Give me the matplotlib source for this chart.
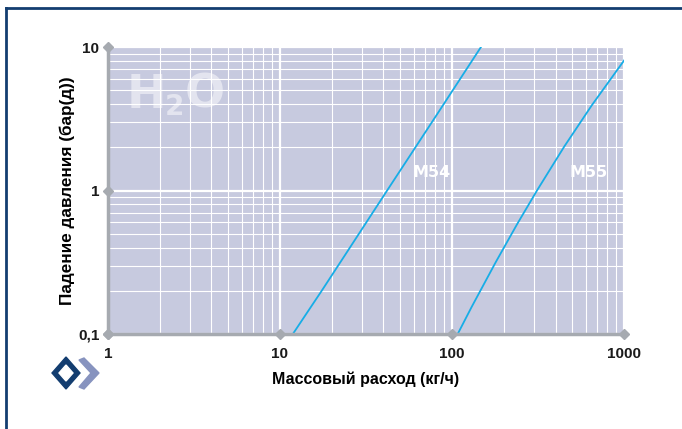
import numpy as np
import matplotlib
matplotlib.use("Agg")
import matplotlib.pyplot as plt
from matplotlib.patches import Polygon
from matplotlib.lines import Line2D

plt.rcParams['font.family'] = ['Liberation Sans', 'DejaVu Sans']

# data
m54_flow = [11.9, 14, 17.5, 25, 42, 80, 147.5]
m54_dp = [0.1, 0.134, 0.2, 0.385, 1.0, 3.25, 10.0]
m55_flow = [108, 130, 180, 240, 312, 450, 650, 1000]
m55_dp = [0.1, 0.154, 0.318, 0.587, 1.0, 2.03, 3.93, 8.05]

x_ticks = [1, 10, 100, 1000]
x_labels = ["1", "10", "100", "1000"]
y_ticks = [0.1, 1, 10]
y_labels = ["0,1", "1", "10"]

bg = "#c7cadf"
line_col = "#17ade6"
spine_col = "#a6aab0"
navy = "#133d70"

fig = plt.figure(figsize=(6.82, 4.29), dpi=100)
ax = fig.add_axes([0.158, 0.2214, 0.757, 0.669])
ax.set_facecolor(bg)
ax.set_xscale("log")
ax.set_yscale("log")
ax.set_xlim(1, 1000)
ax.set_ylim(0.1, 10)

ax.grid(True, which="major", color="white", lw=1.6)
ax.grid(True, which="minor", color="white", lw=0.8)
ax.set_axisbelow(True)

ax.plot(m54_flow, m54_dp, color=line_col, lw=1.3)
ax.plot(m55_flow, m55_dp, color=line_col, lw=1.3)

ax.set_xticks(x_ticks)
ax.set_xticklabels(x_labels)
ax.set_yticks(y_ticks)
ax.set_yticklabels(y_labels)
ax.tick_params(which="both", length=0)
ax.tick_params(axis="x", pad=9)
ax.tick_params(axis="y", pad=6)
for t in ax.get_xticklabels() + ax.get_yticklabels():
    t.set_fontsize(11)
    t.set_fontweight("bold")
    t.set_color("#1a1a1a")

for s in ["top", "right"]:
    ax.spines[s].set_visible(False)
for s in ["left", "bottom"]:
    ax.spines[s].set_color(spine_col)
    ax.spines[s].set_linewidth(2.5)

# diamonds on the axes
ax.plot([1] * len(y_ticks), y_ticks, "D", color=spine_col, ms=5.5, clip_on=False, zorder=5)
ax.plot(x_ticks, [0.1] * len(x_ticks), "D", color=spine_col, ms=5.5, clip_on=False, zorder=5)

ax.set_xlabel("Массовый расход (кг/ч)", fontsize=11.5, fontweight="bold", labelpad=8)
ax.set_ylabel("Падение давления (бар(д))", fontsize=12.3, fontweight="bold", labelpad=2)

# curve labels
ax.text(76.5, 1.33, "M54", color="white", fontsize=11.5, fontweight="bold",
        family=["DejaVu Sans"], ha="center", va="center")
ax.text(626, 1.33, "M55", color="white", fontsize=11.5, fontweight="bold",
        family=["DejaVu Sans"], ha="center", va="center")

W, H = 682.0, 429.0
def px(x, y):
    return (x / W, 1 - y / H)

# H2O watermark
wm = dict(color="white", alpha=0.5, fontweight="heavy", va="baseline", ha="left",
          family=["DejaVu Sans"])
fig.text(*px(127, 108), "H", fontsize=34, **wm)
fig.text(*px(165, 115), "2", fontsize=20, **wm)
fig.text(*px(185, 108), "O", fontsize=34, **wm)

# frame lines
fig.add_artist(Line2D([6 / W, 1], [1 - 8 / H] * 2, color=navy, lw=2))
fig.add_artist(Line2D([6 / W] * 2, [1 - 8 / H, 0], color=navy, lw=2))

# logo
cx, cy = 66, 373
outer = [px(cx - 14, cy), px(cx, cy - 16), px(cx + 14, cy), px(cx, cy + 16)]
inner = [px(cx - 7, cy), px(cx, cy - 8), px(cx + 7, cy), px(cx, cy + 8)]
fig.add_artist(Polygon(outer, closed=True, color=navy, transform=fig.transFigure))
fig.add_artist(Polygon(inner, closed=True, color="white", transform=fig.transFigure))
chev = [px(79, 360), px(84, 358), px(99, 373), px(84, 389), px(79, 387), px(91, 373)]
fig.add_artist(Polygon(chev, closed=True, color="#8793bf", transform=fig.transFigure))

fig.savefig("out.png", dpi=100)
